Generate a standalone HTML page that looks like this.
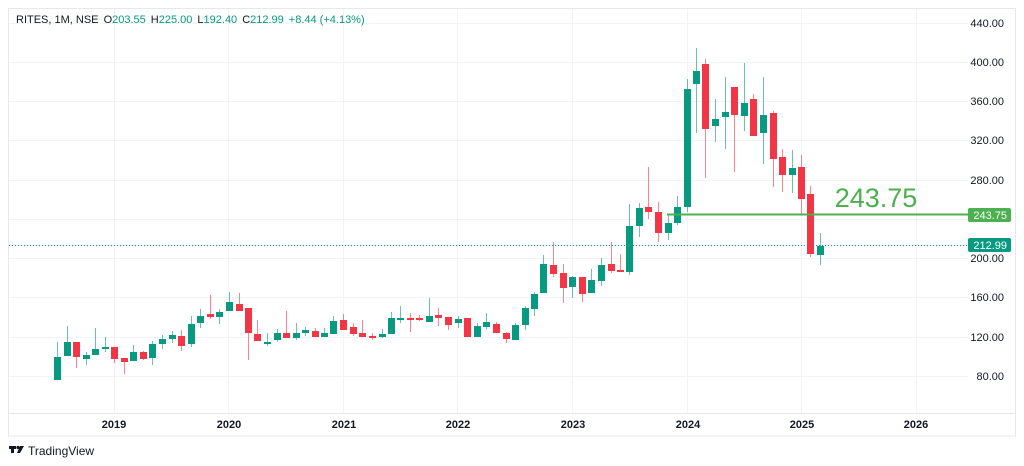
<!DOCTYPE html>
<html><head><meta charset="utf-8"><style>
html,body{margin:0;padding:0;background:#fff;width:1024px;height:466px;overflow:hidden}
svg{display:block;font-family:"Liberation Sans",sans-serif}
</style></head><body>
<svg id="s" width="1024" height="466" xmlns="http://www.w3.org/2000/svg">
<rect x="8.5" y="8.5" width="1007" height="427.5" fill="#fff" stroke="#e6e8ee"/>
<g stroke="#f0f3fa" stroke-width="1">
<line x1="9" x2="968" y1="23.5" y2="23.5"/><line x1="9" x2="968" y1="62.5" y2="62.5"/>
<line x1="9" x2="968" y1="101.5" y2="101.5"/><line x1="9" x2="968" y1="140.5" y2="140.5"/>
<line x1="9" x2="968" y1="180.5" y2="180.5"/><line x1="9" x2="968" y1="219.5" y2="219.5"/>
<line x1="9" x2="968" y1="258.5" y2="258.5"/><line x1="9" x2="968" y1="297.5" y2="297.5"/>
<line x1="9" x2="968" y1="337.5" y2="337.5"/><line x1="9" x2="968" y1="376.5" y2="376.5"/>
<line y1="9" y2="413" x1="114.5" x2="114.5"/><line y1="9" y2="413" x1="228.5" x2="228.5"/>
<line y1="9" y2="413" x1="343.5" x2="343.5"/><line y1="9" y2="413" x1="457.5" x2="457.5"/>
<line y1="9" y2="413" x1="572.5" x2="572.5"/><line y1="9" y2="413" x1="687.5" x2="687.5"/>
<line y1="9" y2="413" x1="801.5" x2="801.5"/><line y1="9" y2="413" x1="916.5" x2="916.5"/>
</g>
<line x1="9" x2="1015" y1="413.5" y2="413.5" stroke="#e6e8ee"/>
<g font-size="11" fill="#131722" font-weight="bold" text-anchor="middle">
<text x="114" y="428">2019</text><text x="229" y="428">2020</text><text x="344" y="428">2021</text>
<text x="458" y="428">2022</text><text x="573" y="428">2023</text><text x="688" y="428">2024</text>
<text x="802" y="428">2025</text><text x="916" y="428">2026</text>
</g>
<g font-size="11" fill="#131722" text-anchor="end">
<text x="1004" y="27">440.00</text><text x="1004" y="66">400.00</text><text x="1004" y="105">360.00</text>
<text x="1004" y="144">320.00</text><text x="1004" y="184">280.00</text><text x="1004" y="262">200.00</text>
<text x="1004" y="301">160.00</text><text x="1004" y="341">120.00</text><text x="1004" y="380">80.00</text>
</g>
<line x1="9" x2="968" y1="245.5" y2="245.5" stroke="#089981" stroke-dasharray="1,2" stroke-width="1"/>
<g id="c"></g>
<line x1="667" x2="968" y1="214.5" y2="214.5" stroke="#4caf50" stroke-width="2"/>
<text x="876" y="207" font-size="27" fill="#4caf50" text-anchor="middle">243.75</text>
<rect x="968" y="208" width="43" height="14" rx="2" fill="#4caf50"/>
<text x="1007" y="219" font-size="11" fill="#fff" text-anchor="end">243.75</text>
<rect x="968" y="238" width="43" height="14" rx="2" fill="#089981"/>
<text x="1007" y="249" font-size="11" fill="#fff" text-anchor="end">212.99</text>
<text x="16" y="23" font-size="11" fill="#131722">RITES, 1M, NSE <tspan dx="2">O</tspan><tspan fill="#089981">203.55</tspan><tspan dx="5">H</tspan><tspan fill="#089981">225.00</tspan><tspan dx="5">L</tspan><tspan fill="#089981">192.40</tspan><tspan dx="5">C</tspan><tspan fill="#089981">212.99</tspan><tspan dx="5" fill="#089981">+8.44 (+4.13%)</tspan></text>
<g transform="translate(9,446)" fill="#131722"><rect x="0" y="0" width="7" height="3"/><rect x="2" y="0" width="3" height="7"/><circle cx="9" cy="1.5" r="1.6"/><path d="M11 0h4l-4 7h-3z"/></g>
<text x="28" y="455" font-size="12" fill="#131722">TradingView</text>
</svg>
<script>
var d=[[57,357,380,342,380,1],[66.7,342,356,326,356,1],[76,342,357,342,368,0],[85.7,355,359,352,365,1],[95,349,355,328,355,1],[105,347,349,337,352,1],[114,347,359,347,363,0],[123.7,358,362,358,374,0],[133.3,352,361,345,361,1],[143,352,359,351,360,0],[152.3,344,358,341,365,1],[162,339,344,335,349,1],[171.7,335,339,331,343,1],[181,336,346,330,351,0],[190.7,324,344,316,347,1],[200,316,323,309,328,1],[210,314,317,295,319,0],[219.3,312,317,309,324,1],[228.7,302,311,292,311,1],[238.7,304,311,293,311,0],[248,308,333,308,360,0],[257.3,334,341,320,341,0],[266.7,342,344,333,346,1],[276.7,333,340,329,342,1],[286,333,338,311,338,0],[295.7,333,338,323,340,1],[305,330,333,327,336,1],[315,331,337,328,337,0],[324.3,333,337,328,337,1],[333.3,321,334,316,334,1],[343.3,320,330,314,330,0],[352.7,327,334,323,336,0],[362.3,333,337,320,337,0],[372,336,338,333,340,0],[381.7,334,337,329,338,1],[390.7,318,334,312,334,1],[400.3,318,320,306,323,1],[410,318,320,313,332,0],[419.3,318,320,315,321,0],[429,316,322,298,322,1],[438.3,315,318,308,326,0],[448.3,317,325,317,330,0],[457.7,319,323,316,328,1],[466.7,318,337,318,337,0],[476.7,326,337,323,337,1],[486,322,327,313,329,1],[495.7,324,333,322,333,0],[505.7,333,339,332,343,0],[515,325,340,323,340,1],[524.7,308,325,306,330,1],[534,294,309,292,316,1],[543.3,264,293,255,293,1],[553.3,265,274,242,277,0],[562.7,273,288,264,303,0],[572,277,287,276,298,1],[581.7,277,294,277,302,0],[591.3,280,293,269,293,1],[600.7,265,281,258,286,1],[610.7,264,271,242,273,0],[620,270,272,254,272,0],[629.3,226,272,204,275,1],[639,208,226,203,237,1],[648.3,207,212,167,219,0],[658.3,212,233,202,242,0],[667.7,223,233,215,240,1],[677,207,223,196,225,1],[686.7,89,207,79,212,1],[696.3,71,84,48,133,1],[705.3,64,129,59,178,0],[715.3,119,126,99,142,1],[725,112,117,77,149,1],[734,87,115,87,172,0],[744,103,116,63,131,1],[753.3,99,136,94,136,0],[763.3,115,133,77,164,1],[772.7,113,159,111,187,0],[782,157,175,149,192,0],[791.7,168,175,150,193,1],[801.3,167,199,155,215,0],[810.3,194,254,186,257,0],[820.3,246,255,233,265,1]];
var h='';d.forEach(function(c){var col=c[5]?'#089981':'#f23645',x=Math.round(c[0]);
h+='<line x1="'+(x+.5)+'" x2="'+(x+.5)+'" y1="'+c[3]+'" y2="'+c[4]+'" stroke="'+col+'" stroke-opacity="0.6"/>';
h+='<rect x="'+(x-3)+'" y="'+c[1]+'" width="7" height="'+Math.max(1.5,c[2]-c[1])+'" fill="'+col+'"/>';});
document.getElementById('c').innerHTML=h;
</script>
</body></html>
